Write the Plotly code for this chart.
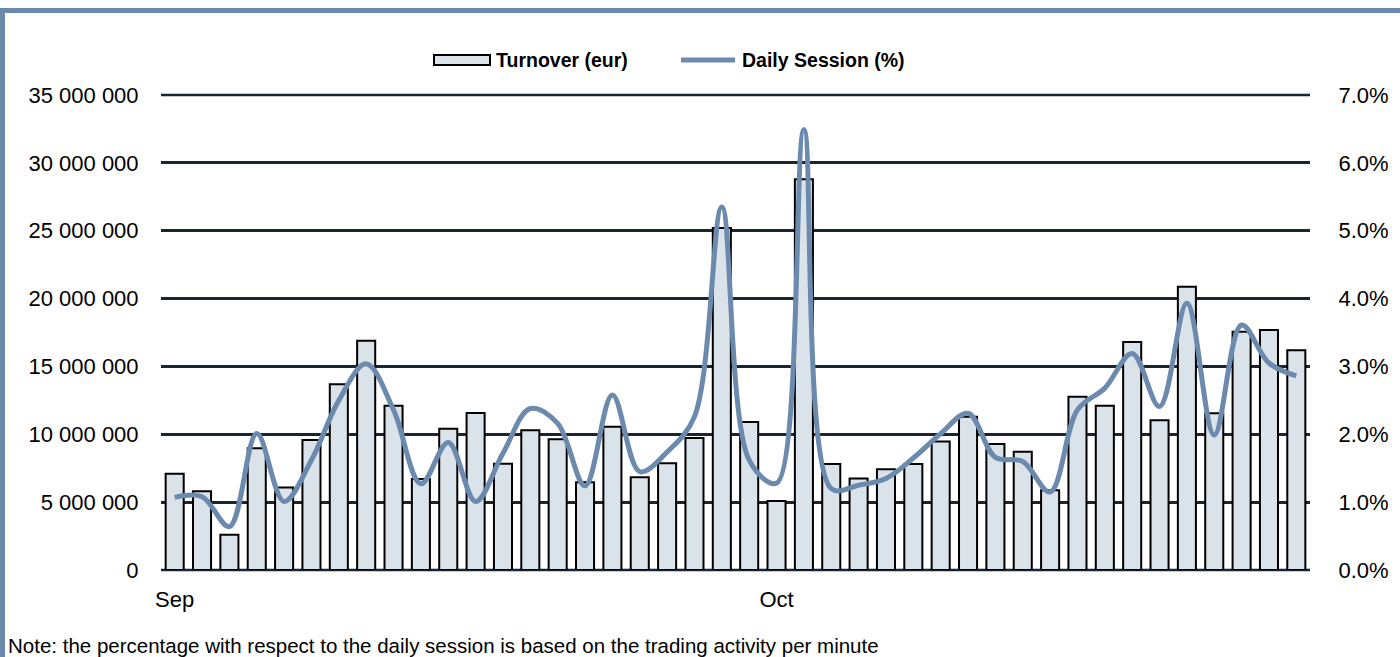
import plotly.graph_objects as go
import pandas as pd

# ---- data ----
dates = [d.strftime("%Y-%m-%d") for d in pd.bdate_range("2020-09-01", periods=42)]
turnover = [7.1e6, 5.8e6, 2.6e6, 8.97e6, 6.07e6, 9.58e6, 13.68e6, 16.9e6, 12.1e6, 6.7e6,
            10.4e6, 11.57e6, 7.83e6, 10.3e6, 9.63e6, 6.46e6, 10.56e6, 6.83e6, 7.86e6, 9.73e6,
            25.2e6, 10.9e6, 5.08e6, 28.8e6, 7.81e6, 6.75e6, 7.42e6, 7.81e6, 9.46e6, 11.3e6,
            9.29e6, 8.72e6, 5.87e6, 12.77e6, 12.1e6, 16.8e6, 11.03e6, 20.88e6, 11.55e6, 17.56e6,
            17.69e6, 16.2e6]
daily_session_pct = [1.07, 1.08, 0.64, 2.01, 1.01, 1.62, 2.5, 3.04, 2.36, 1.27,
                     1.88, 1.01, 1.72, 2.38, 2.16, 1.24, 2.58, 1.45, 1.74, 2.26,
                     5.35, 1.62, 1.28, 6.49, 1.2, 1.25, 1.35, 1.65, 2.01, 2.31,
                     1.66, 1.6, 1.15, 2.36, 2.68, 3.19, 2.41, 3.93, 1.99, 3.61,
                     3.05, 2.86]
left_tickvals = [0, 5e6, 10e6, 15e6, 20e6, 25e6, 30e6, 35e6]
right_tickvals = [0, 0.01, 0.02, 0.03, 0.04, 0.05, 0.06, 0.07]
x_tickvals = ["2020-09-01", "2020-10-01"]
x_ticktext = ["Sep", "Oct"]
series_names = ["Turnover (eur)", "Daily Session (%)"]

# ---- layout constants ----
W, H = 1400, 657
ML, MR, MT, MB = 161, 90, 95, 87
PW, PH = W - ML - MR, H - MT - MB
FRAME = "#6a89ab"
LINE_C = "#6b8aad"
BAR_C = "#dbe3ea"
GRID_C = "#1b2532"
FONT = "Arial, Liberation Sans, sans-serif"


def px_x(p):
    return (p - ML) / PW


def px_y(p):
    return (H - MB - p) / PH


fig = go.Figure()
fig.add_trace(go.Bar(
    x=dates, y=turnover, name=series_names[0],
    marker=dict(color=BAR_C, line=dict(color="#000000", width=2)),
    yaxis="y", showlegend=False,
))
fig.add_trace(go.Scatter(
    x=dates, y=[v / 100 for v in daily_session_pct], name=series_names[1],
    mode="lines", line=dict(color=LINE_C, width=5, shape="spline", smoothing=1.0),
    yaxis="y2", showlegend=False,
))

fig.update_layout(
    width=W, height=H,
    margin=dict(l=ML, r=MR, t=MT, b=MB, pad=0),
    paper_bgcolor="white", plot_bgcolor="white",
    font=dict(family=FONT, color="#000000", size=22),
    separators=". ",
    bargap=0.34,
    xaxis=dict(type="category", range=[-0.5, 41.5], tickmode="array",
               tickvals=x_tickvals, ticktext=x_ticktext, showgrid=False,
               ticks="outside", ticklen=10, tickcolor="rgba(0,0,0,0)",
               showline=False, zeroline=False, tickfont=dict(size=22)),
    yaxis=dict(range=[left_tickvals[0], left_tickvals[-1]], tickmode="array",
               tickvals=left_tickvals, tickformat=",d",
               showgrid=True, gridcolor=GRID_C, gridwidth=2.5, zeroline=False,
               ticks="outside", ticklen=17, tickcolor="rgba(0,0,0,0)", showline=False,
               tickfont=dict(size=22)),
    yaxis2=dict(range=[right_tickvals[0], right_tickvals[-1]], overlaying="y", side="right",
                tickmode="array", tickvals=right_tickvals, tickformat=".1%", showgrid=False,
                zeroline=False, ticks="outside", ticklen=23, tickcolor="rgba(0,0,0,0)",
                showline=False, tickfont=dict(size=22)),
    shapes=[
        # edge gridlines (bottom & top of the value range)
        dict(type="line", xref="paper", yref="paper", x0=0, x1=1, y0=0, y1=0,
             line=dict(color=GRID_C, width=2.5), layer="below"),
        dict(type="line", xref="paper", yref="paper", x0=0, x1=1, y0=1, y1=1,
             line=dict(color=GRID_C, width=2.5), layer="below"),
        # frame
        dict(type="rect", xref="paper", yref="paper", x0=px_x(-2), x1=px_x(5),
             y0=px_y(H + 5), y1=px_y(8), fillcolor=FRAME, line=dict(width=0), layer="above"),
        dict(type="rect", xref="paper", yref="paper", x0=px_x(-2), x1=px_x(W + 5),
             y0=px_y(13), y1=px_y(8), fillcolor=FRAME, line=dict(width=0), layer="above"),
        # legend symbols
        dict(type="rect", xref="paper", yref="paper", x0=px_x(434), x1=px_x(490),
             y0=px_y(65), y1=px_y(55), fillcolor=BAR_C, line=dict(color="#000000", width=2)),
        dict(type="line", xref="paper", yref="paper", x0=px_x(681), x1=px_x(735),
             y0=px_y(60), y1=px_y(60), line=dict(color=LINE_C, width=5)),
    ],
    annotations=[
        dict(text="<b>%s</b>" % series_names[0], xref="paper", yref="paper", x=px_x(494), y=px_y(60),
             xanchor="left", yanchor="middle", showarrow=False,
             font=dict(family=FONT, size=19.5, color="#000000")),
        dict(text="<b>%s</b>" % series_names[1], xref="paper", yref="paper", x=px_x(740), y=px_y(60),
             xanchor="left", yanchor="middle", showarrow=False,
             font=dict(family=FONT, size=19.5, color="#000000")),
        dict(text="Note: the percentage with respect to the daily session is based on the trading activity per minute",
             xref="paper", yref="paper", x=px_x(6), y=px_y(645), xanchor="left", yanchor="middle",
             showarrow=False, font=dict(family=FONT, size=20.5, color="#000000")),
    ],
)

fig.write_html("out.html", config={"displayModeBar": False},
               post_script="document.body.style.margin='0';document.body.style.padding='0';")
